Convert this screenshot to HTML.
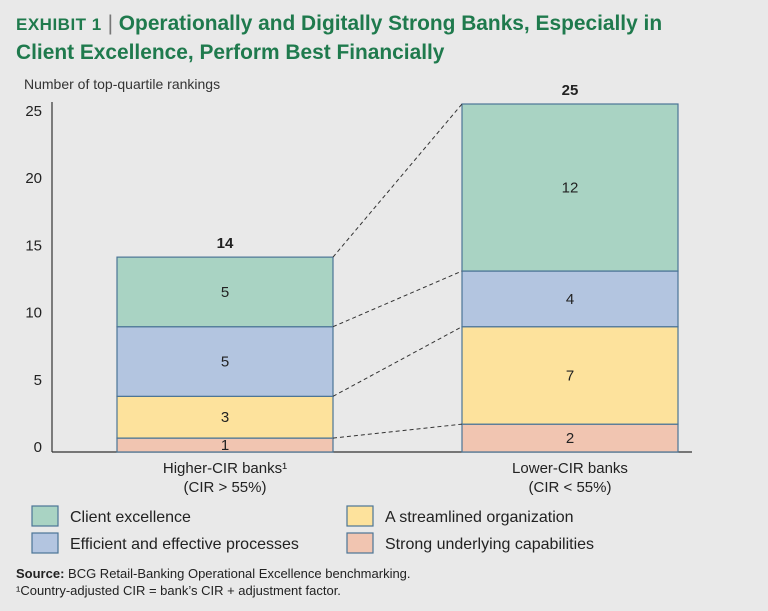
<!DOCTYPE html>
<html><head><meta charset="utf-8"><style>
body{margin:0;width:768px;height:611px;background:#e9e9e9;font-family:"Liberation Sans",sans-serif;overflow:hidden;position:relative}
.t{position:absolute;left:16px;top:10px;color:#1f7a4d;font-weight:bold;font-size:20.9px;line-height:28px}
.sc{font-size:17px;letter-spacing:0.5px}
</style></head><body>
<div class="t"><span class="sc">EXHIBIT 1</span> <span style="font-weight:normal;color:#777">|</span> Operationally and Digitally Strong Banks, Especially in<br>Client Excellence, Perform Best Financially</div>
<svg id="c" width="768" height="611" style="position:absolute;left:0;top:0" font-family="Liberation Sans, sans-serif"></svg>
<script>
const categories=["Higher-CIR banks¹","Lower-CIR banks"];
const subLabels=["(CIR > 55%)","(CIR < 55%)"];
const seriesNames=["Strong underlying capabilities","A streamlined organization","Efficient and effective processes","Client excellence"];
const strong=[1,2];
const streamlined=[3,7];
const efficient=[5,4];
const client=[5,12];
const yTicks=[0,5,10,15,20,25];
const fills=["#f1c5b1","#fde29c","#b3c5e0","#a9d3c3"];
const stroke="#4b7596";
const svg=document.getElementById('c');
const NS="http://www.w3.org/2000/svg";
const y0=452,y1=104,yMax=25;
const y=v=>y0-(y0-y1)*v/yMax;
const barX=[117,462],barW=216;
function mk(tag,attrs,name,txt){const e=document.createElementNS(NS,tag);for(const k in attrs)e.setAttribute(k,attrs[k]);

if(txt!=null)e.textContent=txt;svg.appendChild(e);return e;}
mk('text',{x:24,y:89,'font-size':14,fill:'#333'},'y-axis-title','Number of top-quartile rankings');
mk('line',{x1:52,y1:y1-2,x2:52,y2:y0,stroke:'#333','stroke-width':1.2},'y-axis');
mk('line',{x1:52,y1:y0,x2:692,y2:y0,stroke:'#333','stroke-width':1.2},'x-axis');
yTicks.forEach(t=>mk('text',{x:42,y:y(t)+0.48*t,'font-size':15,fill:'#222','text-anchor':'end'},'y-tick-label',t));
const series=[strong,streamlined,efficient,client];
const tops=[];
categories.forEach((c,i)=>{let cum=0;const bounds=[];
 series.forEach((s,j)=>{const v=s[i];const yt=y(cum+v),yb=y(cum);
  mk('rect',{x:barX[i],y:yt,width:barW,height:yb-yt,fill:fills[j],stroke:stroke,'stroke-width':1.2},'bar-segment');
  mk('text',{x:barX[i]+barW/2,y:(yt+yb)/2+5,'font-size':15,fill:'#222','text-anchor':'middle'},'segment-label',v);
  cum+=v;bounds.push(yt);});
 tops.push(bounds);
 mk('text',{x:barX[i]+barW/2,y:y(cum)-9,'font-size':15,'font-weight':'bold',fill:'#222','text-anchor':'middle'},'total-label',cum);
 mk('text',{x:barX[i]+barW/2,y:473,'font-size':15,fill:'#222','text-anchor':'middle'},'category-label',c);
 mk('text',{x:barX[i]+barW/2,y:492,'font-size':15,fill:'#222','text-anchor':'middle'},'category-sublabel',subLabels[i]);
});
for(let j=0;j<4;j++)mk('line',{x1:barX[0]+barW,y1:tops[0][j],x2:barX[1],y2:tops[1][j],stroke:'#333','stroke-dasharray':'4,3','stroke-width':1},'connector-line');
const leg=[[3,32,516],[1,347,516],[2,32,543],[0,347,543]];
leg.forEach(([j,x,yy])=>{mk('rect',{x:x,y:yy-10,width:26,height:20,fill:fills[j],stroke:stroke,'stroke-width':1.2},'legend-swatch');
 mk('text',{x:x+38,y:yy+6,'font-size':16,fill:'#222'},'legend-entry',seriesNames[j]);});
const s=mk('text',{x:16,y:578,'font-size':13,fill:'#222'},'source-note',null);
s.innerHTML='<tspan font-weight="bold">Source:</tspan> BCG Retail-Banking Operational Excellence benchmarking.';
mk('text',{x:16,y:595,'font-size':13,fill:'#222'},'footnote','¹Country-adjusted CIR = bank’s CIR + adjustment factor.');
</script>
</body></html>
